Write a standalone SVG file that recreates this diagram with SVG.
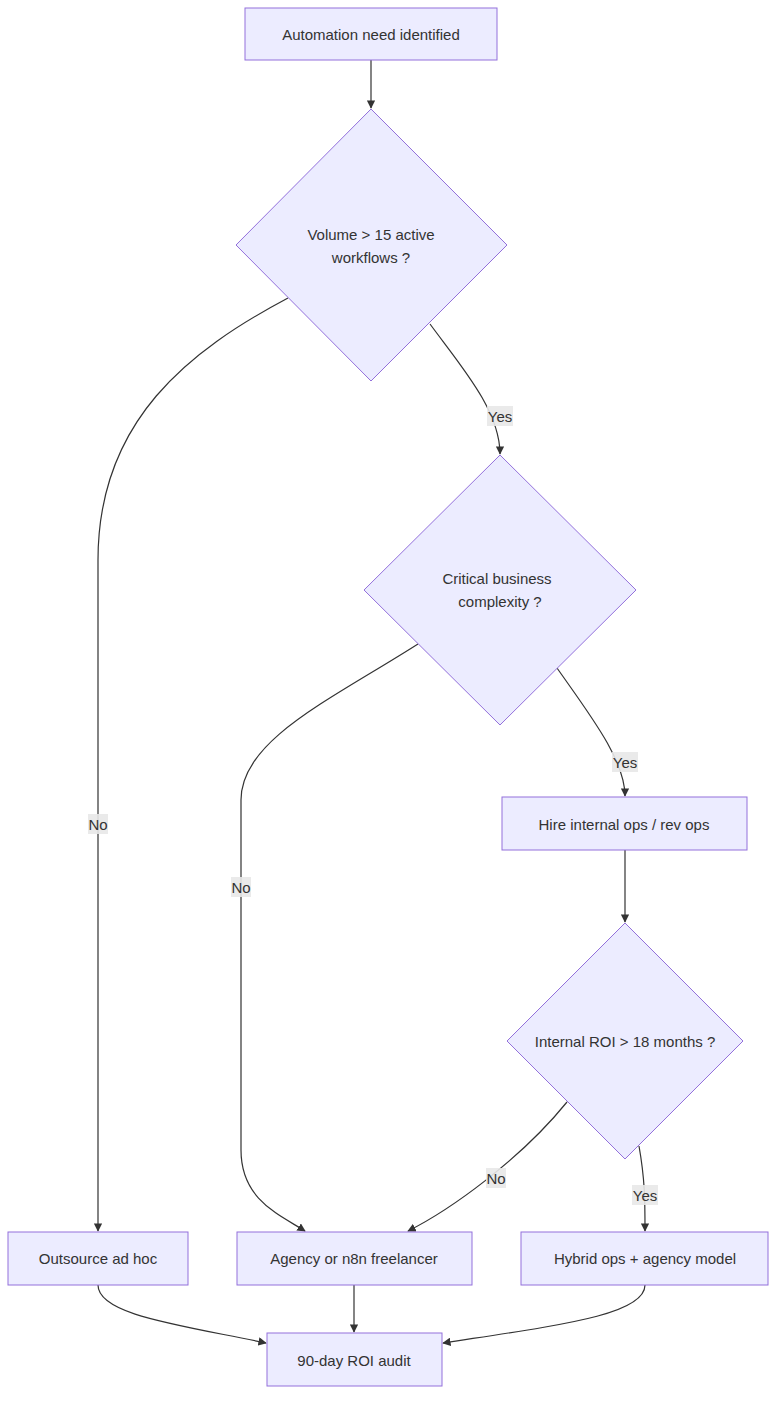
<svg xmlns="http://www.w3.org/2000/svg" width="784" height="1410" viewBox="0 0 784 1410">
<style>
.n{fill:#ECECFF;stroke:#9370DB;stroke-width:1}
.t{font-family:"Liberation Sans",Arial,sans-serif;font-size:15px;fill:#333;text-anchor:middle;dominant-baseline:central}
.e{fill:none;stroke:#333;stroke-width:1.2;marker-end:url(#a)}
.lb{fill:#e8e8e8;opacity:0.9}
</style>
<defs><marker id="a" viewBox="0 0 10 10" refX="9" refY="5" markerWidth="7" markerHeight="7" orient="auto"><path d="M0,0L10,5L0,10z" fill="#333"/></marker></defs>
<rect width="784" height="1410" fill="#fff"/>
<g id="edges">
<path class="e" d="M371,60V108"/>
<path class="e" d="M288,298C190,350 98,420 98,560V1231"/>
<path class="e" d="M430,324C460,365 500,410 500,454"/>
<path class="e" d="M418,644C330,700 241,740 241,800V1150C241,1200 280,1215 305,1231"/>
<path class="e" d="M557,668C590,715 625,760 625,796"/>
<path class="e" d="M625,850V922"/>
<path class="e" d="M567,1102C520,1160 450,1210 408,1231"/>
<path class="e" d="M639,1146C645,1180 645,1200 645,1231"/>
<path class="e" d="M98,1285C98,1315 180,1325 266,1343"/>
<path class="e" d="M354,1285V1332"/>
<path class="e" d="M645,1285C645,1315 560,1325 443,1343"/>
</g>
<g id="labels">
<rect class="lb" x="88" y="814" width="20" height="20"/><text class="t" x="98" y="824">No</text>
<rect class="lb" x="487" y="406" width="26" height="20"/><text class="t" x="500" y="416">Yes</text>
<rect class="lb" x="231" y="877" width="20" height="20"/><text class="t" x="241" y="887">No</text>
<rect class="lb" x="612" y="752" width="26" height="20"/><text class="t" x="625" y="762">Yes</text>
<rect class="lb" x="486" y="1168" width="20" height="20"/><text class="t" x="496" y="1178">No</text>
<rect class="lb" x="632" y="1185" width="26" height="20"/><text class="t" x="645" y="1195">Yes</text>
</g>
<g id="A"><rect class="n" x="245" y="8" width="252" height="52"/><text class="t" x="371" y="34">Automation need identified</text></g>
<g id="D1"><polygon class="n" points="371,109 507,245 371,381 236,245"/><text class="t" x="371" y="234">Volume &gt; 15 active</text><text class="t" x="371" y="257">workflows ?</text></g>
<g id="D2"><polygon class="n" points="500,455 636,590 500,725 364,590"/><text class="t" x="497" y="578">Critical business</text><text class="t" x="500" y="601">complexity ?</text></g>
<g id="H"><rect class="n" x="502" y="797" width="245" height="53"/><text class="t" x="624" y="824">Hire internal ops / rev ops</text></g>
<g id="D3"><polygon class="n" points="625,923 743,1041 625,1159 507,1041"/><text class="t" x="625" y="1041">Internal ROI &gt; 18 months ?</text></g>
<g id="O"><rect class="n" x="8" y="1232" width="180" height="53"/><text class="t" x="98" y="1258">Outsource ad hoc</text></g>
<g id="AG"><rect class="n" x="237" y="1232" width="235" height="53"/><text class="t" x="354" y="1258">Agency or n8n freelancer</text></g>
<g id="HY"><rect class="n" x="521" y="1232" width="247" height="53"/><text class="t" x="645" y="1258">Hybrid ops + agency model</text></g>
<g id="R"><rect class="n" x="267" y="1333" width="175" height="53"/><text class="t" x="354" y="1360">90-day ROI audit</text></g>
</svg>
